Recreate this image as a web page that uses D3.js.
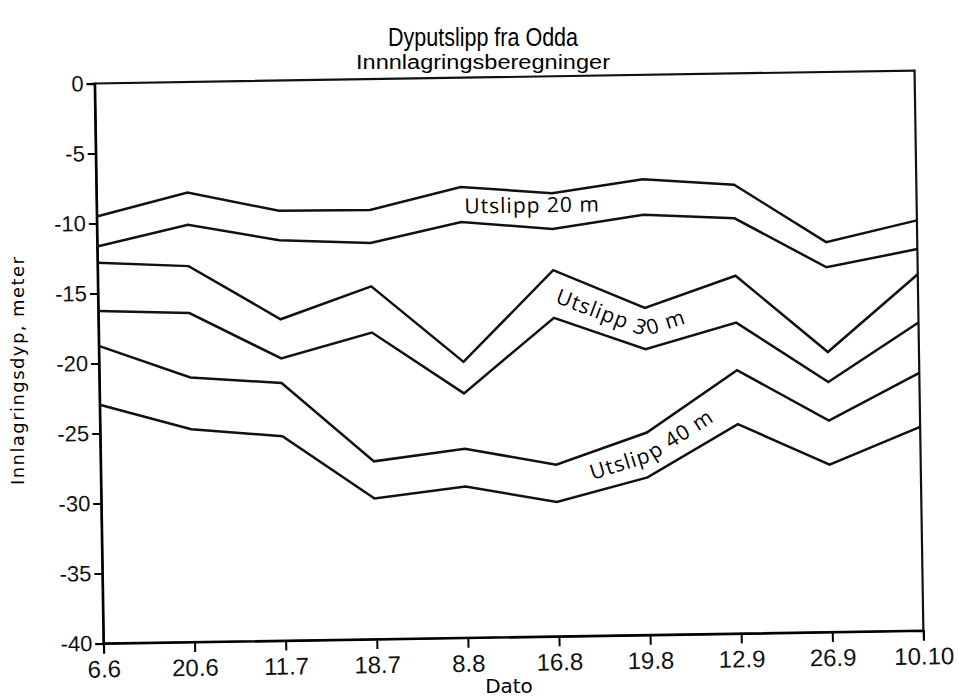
<!DOCTYPE html>
<html><head><meta charset="utf-8">
<script src="https://cdn.jsdelivr.net/npm/d3@7"></script>
<style>body{margin:0;background:#fff}</style>
</head><body>
<svg id="chart" width="959" height="698"></svg>
<script>
// ---- data ----
const dates = ["6.6","20.6","11.7","18.7","8.8","16.8","19.8","12.9","26.9","10.10"];
const yTicks = [0,-5,-10,-15,-20,-25,-30,-35,-40];
const u20Upper = [-9.5,-7.9,-9.3,-9.35,-7.8,-8.35,-7.45,-7.95,-12.15,-10.7];
const u20Lower = [-11.65,-10.2,-11.4,-11.7,-10.3,-10.9,-10.0,-10.35,-13.95,-12.75];
const u30Upper = [-12.8,-13.15,-17.05,-14.8,-20.3,-13.85,-16.65,-14.45,-20.0,-14.55];
const u30Lower = [-16.25,-16.5,-19.85,-18.1,-22.55,-17.25,-19.6,-17.8,-22.15,-18.0];
const u40Upper = [-18.75,-21.1,-21.6,-27.3,-26.5,-27.75,-25.55,-21.2,-24.9,-21.6];
const u40Lower = [-22.95,-24.8,-25.4,-29.95,-29.2,-30.4,-28.75,-25.05,-28.05,-25.45];
const bandLabels = ["Utslipp 20 m","Utslipp 30 m","Utslipp 40 m"];
const title = "Dyputslipp fra Odda";
const subtitle = "Innnlagringsberegninger";
const yTitle = "Innlagringsdyp, meter";
const xTitle = "Dato";

// ---- layout ----
const L = 99, R = 919, T = 77, B = 637;
const svg = d3.select("#chart");
const x = d3.scalePoint().domain(dates).range([L, R]);
const y = d3.scaleLinear().domain([-40, 0]).range([B, T]);
const step = x.step();

svg.append("text").attr("x", 483).attr("y", 46).attr("text-anchor","middle")
  .attr("font-family","Liberation Sans, Arial, sans-serif").attr("font-size",25)
  .attr("textLength",190).attr("lengthAdjust","spacingAndGlyphs").text(title);
svg.append("text").attr("x", 483).attr("y", 69).attr("text-anchor","middle")
  .attr("font-family","Liberation Sans, Arial, sans-serif").attr("font-size",19.5)
  .attr("textLength",254).attr("lengthAdjust","spacingAndGlyphs").text(subtitle);
svg.append("text").attr("transform","translate(24,371) rotate(-90)").attr("text-anchor","middle")
  .attr("font-family","DejaVu Sans, sans-serif").attr("font-size",18)
  .attr("textLength",228).text(yTitle);
svg.append("text").attr("x", 509).attr("y", 693).attr("text-anchor","middle")
  .attr("font-family","DejaVu Sans, sans-serif").attr("font-size",20).text(xTitle);

const g = svg.append("g").attr("transform","rotate(-0.9,509,357)");

g.append("rect").attr("x",L).attr("y",T).attr("width",R-L).attr("height",B-T)
  .attr("fill","none").attr("stroke","#111").attr("stroke-width",2.2);

const ya = g.append("g").attr("transform",`translate(${L},0)`)
  .call(d3.axisLeft(y).tickValues(yTicks).tickSize(8).tickPadding(3).tickFormat(d => String(d)));
ya.select(".domain").attr("stroke-width",2.2);
ya.selectAll("line").attr("stroke-width",2);
ya.selectAll("text").attr("font-family","Liberation Sans, Arial, sans-serif").attr("font-size",22).attr("fill","#111");

const xa = g.append("g").attr("transform",`translate(0,${B})`)
  .call(d3.axisBottom(x).tickSize(10).tickPadding(7));
xa.select(".domain").attr("stroke-width",2.2);
xa.selectAll("line").attr("stroke-width",2);
xa.selectAll("text").attr("font-family","Liberation Sans, Arial, sans-serif").attr("font-size",24).attr("fill","#111");

const line = d3.line().x((d,i) => x(dates[i])).y(d => y(d));
[u20Upper,u20Lower,u30Upper,u30Lower,u40Upper,u40Lower].forEach(s => {
  g.append("path").attr("d", line(s)).attr("fill","none").attr("stroke","#111")
    .attr("stroke-width",2.5).attr("stroke-linejoin","miter");
});

// label guides: mid-band paths between the two lines of each band
const defs = svg.append("defs");
function guide(id, up, lo, i0, i1) {
  const idx = d3.range(i0, i1 + 1);
  const gl = d3.line().x(i => x(dates[i])).y(i => y((up[i] + lo[i]) / 2));
  defs.append("path").attr("id", id).attr("d", gl(idx));
}
guide("g30", u30Upper, u30Lower, 5, 7);
guide("g40", u40Upper, u40Lower, 5, 7);

const lblFont = "Open Sans, DejaVu Sans, sans-serif";
// 20 m: straight label
g.append("text").attr("x", x(dates[4]) + 0.78 * step).attr("y", y(-9.17)).attr("dy","0.36em")
  .attr("text-anchor","middle").attr("font-family",lblFont).attr("font-size",21)
  .attr("letter-spacing",1).text(bandLabels[0]);
[["g30","37%",bandLabels[1]],["g40","51%",bandLabels[2]]].forEach(([id,off,t]) => {
  g.append("text").attr("font-family",lblFont).attr("font-size",21).attr("letter-spacing",1)
    .attr("dy","0.36em")
    .append("textPath").attr("href","#"+id).attr("startOffset",off).attr("text-anchor","middle").text(t);
});
</script>
</body></html>
